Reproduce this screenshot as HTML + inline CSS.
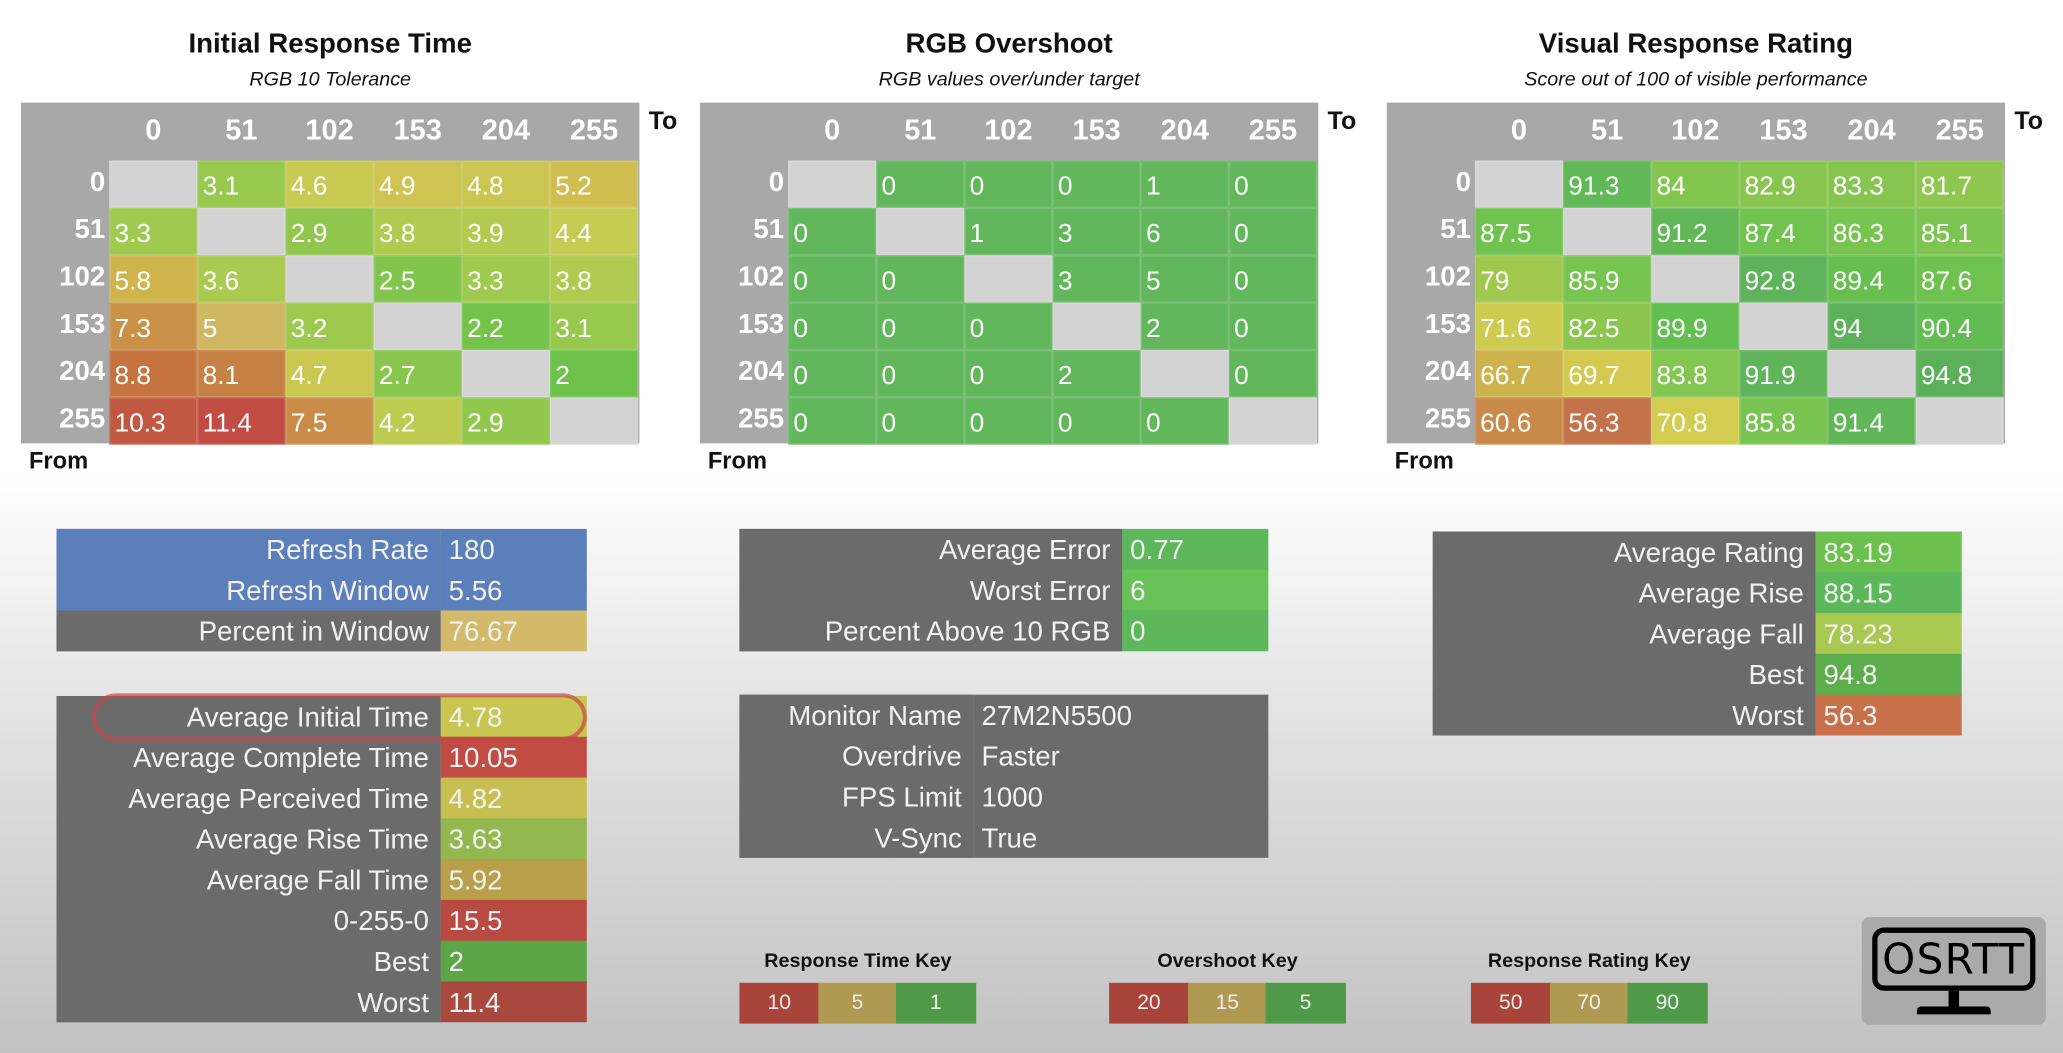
<!DOCTYPE html>
<html><head><meta charset="utf-8">
<style>
html,body{margin:0;padding:0;width:2063px;height:1053px;overflow:hidden;}
body{background:linear-gradient(to bottom,#ffffff 0%,#ffffff 45%,#e6e6e6 65%,#c2c2c2 100%);font-family:"Liberation Sans",sans-serif;}
#w{position:absolute;left:0;top:0;width:1568px;height:800px;transform:scale(1.31569);transform-origin:0 0;}
.a{position:absolute;box-sizing:border-box;white-space:nowrap;overflow:hidden;}
</style></head><body><div id="w"></div>
<script>
var W=document.getElementById('w');
function box(x,y,w,h,bg,txt,st){var d=document.createElement('div');d.className='a';d.style.cssText='left:'+x+'px;top:'+y+'px;width:'+w+'px;height:'+h+'px;background:'+bg+';'+(st||'');if(txt!==undefined)d.textContent=txt;W.appendChild(d);return d;}
function lerp(stops,v){if(v<=stops[0][0])return 'rgb('+stops[0][1].join(',')+')';for(var i=1;i<stops.length;i++){if(v<=stops[i][0]){var a=stops[i-1],b=stops[i],f=(v-a[0])/(b[0]-a[0]);var c=[0,1,2].map(function(k){return Math.round(a[1][k]+(b[1][k]-a[1][k])*f)});return 'rgb('+c.join(',')+')';}}var l=stops[stops.length-1][1];return 'rgb('+l.join(',')+')';}
var timeS=[[2,[108,194,74]],[3,[150,200,78]],[4.5,[200,204,82]],[5.2,[208,190,80]],[6,[206,176,74]],[7.5,[201,140,72]],[9,[196,112,63]],[11,[192,76,68]]];
var rateS=[[56,[196,112,74]],[61,[200,140,72]],[67,[206,180,76]],[70,[214,204,80]],[72,[204,204,80]],[79,[160,200,78]],[84,[130,198,80]],[88,[110,194,80]],[90,[100,190,80]],[92,[96,180,90]],[95,[92,176,90]]];
var heads=['0','51','102','153','204','255'];
function matrix(x0,title,sub,data,colf){
 box(x0-30,22,530,28,'transparent',title,'font-weight:bold;font-size:21px;color:#111;text-align:center;');
 box(x0-30,52,530,22,'transparent',sub,'font-style:italic;font-size:15px;color:#111;text-align:center;');
 box(x0,78,470,259,'#a8a8a8');
 for(var j=0;j<6;j++)box(x0+67+j*67,86,67,30,'transparent',heads[j],'color:#fff;font-weight:bold;font-size:22px;text-align:center;');
 for(var i=0;i<6;i++){box(x0,127+i*36,64,30,'transparent',heads[i],'color:#fff;font-weight:bold;font-size:21px;text-align:right;');
  for(var j=0;j<6;j++){var v=data[i][j];var bg=v===null?'#d3d3d3':colf(v);box(x0+67+j*67,122+i*36,67,36,bg,v===null?'':String(v),'color:#fff;font-size:20px;line-height:38px;padding-left:3px;border:0.5px solid rgba(255,255,255,0.15);');}}
 box(x0+477,82,30,26,'transparent','To','font-weight:bold;font-size:19px;color:#111;');
 box(x0+6,340,60,24,'transparent','From','font-weight:bold;font-size:18px;color:#111;');
}
var N=null;
matrix(16,'Initial Response Time','RGB 10 Tolerance',[[N,3.1,4.6,4.9,4.8,5.2],[3.3,N,2.9,3.8,3.9,4.4],[5.8,3.6,N,2.5,3.3,3.8],[7.3,5,3.2,N,2.2,3.1],[8.8,8.1,4.7,2.7,N,2],[10.3,11.4,7.5,4.2,2.9,N]],function(v){if(v==5)return '#d0b862';return lerp(timeS,v);});
matrix(532,'RGB Overshoot','RGB values over/under target',[[N,0,0,0,1,0],[0,N,1,3,6,0],[0,0,N,3,5,0],[0,0,0,N,2,0],[0,0,0,2,N,0],[0,0,0,0,0,N]],function(v){return '#62b75c';});
matrix(1054,'Visual Response Rating','Score out of 100 of visible performance',[[N,91.3,84,82.9,83.3,81.7],[87.5,N,91.2,87.4,86.3,85.1],[79,85.9,N,92.8,89.4,87.6],[71.6,82.5,89.9,N,94,90.4],[66.7,69.7,83.8,91.9,N,94.8],[60.6,56.3,70.8,85.8,91.4,N]],function(v){return lerp(rateS,v);});
function stats(x,y,lw,vw,rh,rows){var n=rows.length;box(x,y,lw,rh*n,'#6b6b6b');for(var i=0;i<n;i++){var r=rows[i];var h=(i<n-1)?rh+1:rh;box(x,y+i*rh,lw,h,r[2],r[0],'color:#f2f2f2;font-size:21px;text-align:right;padding-right:9px;line-height:'+(rh+2)+'px;');box(x+lw,y+i*rh,vw,h,r[3],r[1],'color:#f2f2f2;font-size:21px;padding-left:6px;line-height:'+(rh+2)+'px;');}}
var G='#6b6b6b',B='#5b7fba';
stats(43,402,292,111,31,[['Refresh Rate','180',B,B],['Refresh Window','5.56',B,B],['Percent in Window','76.67',G,'#d2ba6a']]);
stats(43,529,292,111,31,[['Average Initial Time','4.78',G,'#c8c650'],['Average Complete Time','10.05',G,'#c04c44'],['Average Perceived Time','4.82',G,'#c8bf52'],['Average Rise Time','3.63',G,'#94b850'],['Average Fall Time','5.92',G,'#b8a04a'],['0-255-0','15.5',G,'#b84a42'],['Best','2',G,'#5ca648'],['Worst','11.4',G,'#a8483f']]);
box(70,527,376,36,'transparent','', 'border:3px solid rgba(200,70,70,0.7);border-radius:18px;');
stats(562,402,291,111,31,[['Average Error','0.77',G,'#5cb85a'],['Worst Error','6',G,'#68c258'],['Percent Above 10 RGB','0',G,'#5cb85a']]);
stats(562,528,178,224,31,[['Monitor Name','27M2N5500',G,G],['Overdrive','Faster',G,G],['FPS Limit','1000',G,G],['V-Sync','True',G,G]]);
stats(1089,404,291,111,31,[['Average Rating','83.19',G,'#6cc04e'],['Average Rise','88.15',G,'#5cb85a'],['Average Fall','78.23',G,'#a8c850'],['Best','94.8',G,'#5cae4c'],['Worst','56.3',G,'#c8704a']]);
function key(x,title,vals){box(x-20,722,220,22,'transparent',title,'font-weight:bold;font-size:15px;color:#111;text-align:center;');var c=['#a8443a','#b09a52','#4e9a48'];for(var i=0;i<3;i++)box(x+i*59.5,747,60.5,31,c[i],vals[i],'color:#eee;font-size:16px;text-align:center;line-height:31px;');}
key(562,'Response Time Key',['10','5','1']);
key(843,'Overshoot Key',['20','15','5']);
key(1118,'Response Rating Key',['50','70','90']);
box(1415,697,140,82,'#aaaaaa','','border-radius:6px;');
box(1423,705,124,48,'transparent','OSRTT','border:4px solid #000;border-radius:9px;font-size:32px;color:#000;text-align:center;line-height:40px;letter-spacing:1px;font-family:"DejaVu Sans","Liberation Sans",sans-serif;');
box(1481,753,8,14,'#000');
box(1457,765,56,6,'#000','','border-radius:3px 3px 0 0;');
</script>
</body></html>
